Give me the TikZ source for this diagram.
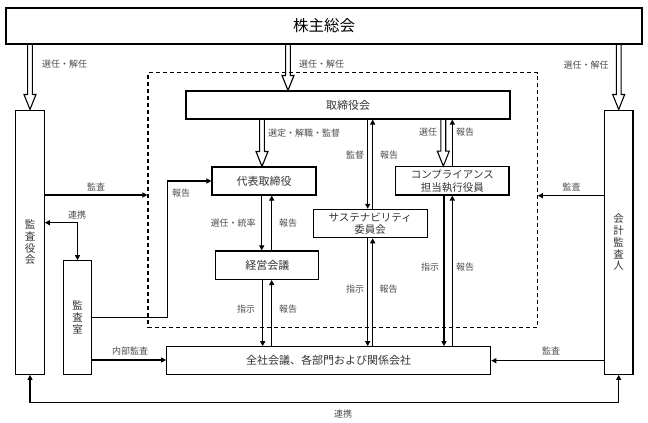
\documentclass[tikz,border=0pt]{standalone}
\usepackage{fontspec}
\setmainfont{Noto Sans CJK JP}
\usetikzlibrary{arrows.meta,calc}
\tikzset{
  box/.style={draw, line width=1.1pt, inner sep=0pt, align=center, text=black!80,
    font=\fontsize{11}{13}\selectfont},
  vbox/.style={box, font=\fontsize{10.5}{11.8}\selectfont},
  lbl/.style={inner sep=0pt, text=black!70, font=\fontsize{9}{10}\selectfont},
  conn/.style={line width=1.1pt, -{Triangle[length=5pt,width=5pt]}},
  bconn/.style={line width=1.1pt, {Triangle[length=5pt,width=5pt]}-{Triangle[length=5pt,width=5pt]}},
  hollowarr/.style={line width=1.1pt, line join=miter},
  ctlbox/.style={draw, line width=1.1pt, dash pattern=on 4pt off 3pt, inner sep=0pt}
}
% hollow (double) arrow at x=#1 from node #2 (south) to node #3 (north)
\newcommand\hollowarr[3]{%
  \draw[hollowarr] let \p1=(#2.south), \p2=(#3.north) in
    (#1pt-2.4pt,\y1) -- (#1pt-2.4pt,\y2+15pt) -- (#1pt-6pt,\y2+15pt) -- (#1pt,\y2)
    -- (#1pt+6pt,\y2+15pt) -- (#1pt+2.4pt,\y2+15pt) -- (#1pt+2.4pt,\y1);}
\begin{document}
\begin{tikzpicture}[x=1pt,y=-1pt]
\useasboundingbox (0,0) rectangle (648,423);
% dashed frame
\node[ctlbox, minimum width=389.3pt, minimum height=255.2pt] (ctl) at (342.65,200.1) {};
% boxes
\node[box, minimum width=636pt, minimum height=36pt, font=\fontsize{15.5}{18}\selectfont, text=black] (top) at (324,26) {株主総会};
\node[box, minimum width=324pt, minimum height=28pt] (brd) at (348,105) {取締役会};
\node[box, minimum width=104pt, minimum height=28pt] (rep) at (264,181) {代表取締役};
\node[box, minimum width=103pt, minimum height=28.5pt] (mgt) at (267.3,265.2) {経営会議};
\node[box, minimum width=114pt, minimum height=28.4pt, font=\fontsize{10.5}{12.7}\selectfont] (sus) at (370.2,223.5) {サステナビリティ\\委員会};
\node[box, minimum width=113.3pt, minimum height=28.3pt, font=\fontsize{10.5}{12.7}\selectfont] (cmp) at (452.3,180.8) {コンプライアンス\\担当執行役員};
\node[vbox, minimum width=28.6pt, minimum height=264.3pt] (ksy) at (30,242.2) {監\\査\\役\\会};
\node[vbox, minimum width=28.4pt, minimum height=113.6pt] (kss) at (77.5,317.5) {監\\査\\室};
\node[box, minimum width=324pt, minimum height=27.6pt] (zen) at (328.7,360.5) {全社会議、各部門および関係会社};
\node[vbox, minimum width=28.5pt, minimum height=264.3pt] (kai) at (618.7,242.2) {会\\計\\監\\査\\人};
% hollow arrows
\hollowarr{30}{top}{ksy}
\hollowarr{288}{top}{brd}
\hollowarr{618.7}{top}{kai}
\hollowarr{262}{brd}{rep}
\hollowarr{443.3}{brd}{cmp}
% board <-> sustainability / compliance
\draw[conn] (brd.south -| 367.7,0) -- (sus.north -| 367.7,0);
\draw[conn] (sus.north -| 372.7,0) -- (brd.south -| 372.7,0);
\draw[conn] (cmp.north -| 452.3,0) -- (brd.south -| 452.3,0);
% representative <-> management
\draw[conn] (rep.south -| 261.7,0) -- (mgt.north -| 261.7,0);
\draw[conn] (mgt.north -| 271.7,0) -- (rep.south -| 271.7,0);
% to / from company-wide
\draw[conn] (mgt.south -| 262.7,0) -- (zen.north -| 262.7,0);
\draw[conn] (zen.north -| 271.7,0) -- (mgt.south -| 271.7,0);
\draw[conn] (sus.south -| 367.7,0) -- (zen.north -| 367.7,0);
\draw[conn] (zen.north -| 372.7,0) -- (sus.south -| 372.7,0);
\draw[conn] (cmp.south -| 444,0) -- (zen.north -| 444,0);
\draw[conn] (zen.north -| 452.3,0) -- (cmp.south -| 452.3,0);
% audits
\draw[conn] (ksy.east |- 0,195) -- (ctl.west |- 0,195);
\draw[conn] (kai.west |- 0,195.7) -- (ctl.east |- 0,195.7);
\draw[conn] (kss.east |- 0,317.3) -| (167.3,181) -- (rep.west);
\draw[bconn] (ksy.east |- 0,222.7) -| (kss.north);
\draw[conn] (kss.east |- 0,360) -- (zen.west |- 0,360);
\draw[conn] (kai.west |- 0,360.7) -- (zen.east |- 0,360.7);
\draw[bconn] (ksy.south) -- (ksy.south |- 0,402.7) -| (kai.south);
% labels
\node[lbl] (l1) at (64.5,64.5) {選任・解任};
\node[lbl] (l2) at (321.5,64.5) {選任・解任};
\node[lbl] (l3) at (586,65) {選任・解任};
\node[lbl] (l4) at (304,132.7) {選定・解職・監督};
\node[lbl] (l5) at (355,155) {監督};
\node[lbl] (l6) at (389,155) {報告};
\node[lbl] (l7) at (428,131.7) {選任};
\node[lbl] (l8) at (465,131.7) {報告};
\node[lbl] (l9) at (96,186.7) {監査};
\node[lbl] (l10) at (181,192.7) {報告};
\node[lbl] (l11) at (77,215) {連携};
\node[lbl] (l12) at (571.7,186.7) {監査};
\node[lbl] (l13) at (233,223.3) {選任・統率};
\node[lbl] (l14) at (288,223.3) {報告};
\node[lbl] (l15) at (430,266.7) {指示};
\node[lbl] (l16) at (465,266.7) {報告};
\node[lbl] (l17) at (355,289.3) {指示};
\node[lbl] (l18) at (388.5,289.3) {報告};
\node[lbl] (l19) at (246,309.3) {指示};
\node[lbl] (l20) at (288,309.3) {報告};
\node[lbl] (l21) at (130,350.7) {内部監査};
\node[lbl] (l22) at (551,350.7) {監査};
\node[lbl] (l23) at (343,414) {連携};
\end{tikzpicture}
\end{document}
